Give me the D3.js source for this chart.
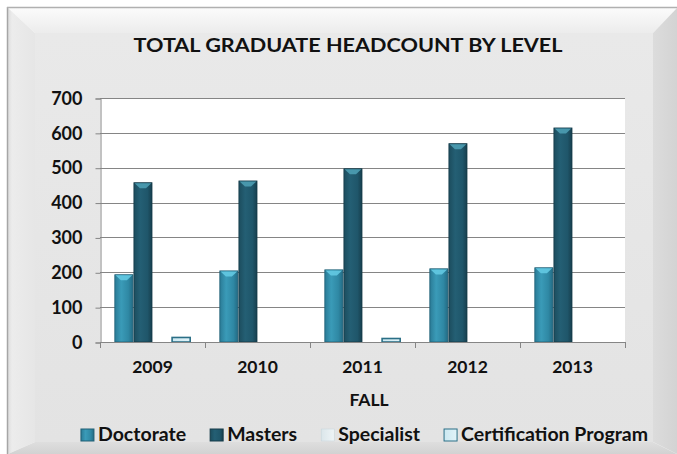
<!DOCTYPE html>
<html><head><meta charset="utf-8">
<script src="https://cdn.jsdelivr.net/npm/d3@7"></script>
<style>body{margin:0;background:#fff}svg{display:block}</style>
</head><body><svg id="c" width="677" height="454"></svg>
<script>
// ---- data ----
const years = ["2009", "2010", "2011", "2012", "2013"];
const seriesNames = ["Doctorate", "Masters", "Specialist", "Certification Program"];
const doctorate = [193, 204, 207, 210, 213];
const masters = [457, 462, 497, 569, 614];
const specialist = [0, 0, 0, 0, 0];
const certification = [13, 0, 10, 0, 0];
const yTicks = [0, 100, 200, 300, 400, 500, 600, 700];
const titleText = "TOTAL GRADUATE HEADCOUNT BY LEVEL";
const xTitle = "FALL";

const seriesValues = [doctorate, masters, specialist, certification];
const FONT = "Lato, 'Open Sans', sans-serif";

const svg = d3.select("#c");
const W = 677, H = 454;
const defs = svg.append("defs");

function linGrad(id, stops, horiz) {
  const g = defs.append("linearGradient").attr("id", id)
    .attr("x1", 0).attr("y1", 0).attr("x2", horiz ? 1 : 0).attr("y2", horiz ? 0 : 1);
  stops.forEach(([o, c]) => g.append("stop").attr("offset", o).attr("stop-color", c));
}
linGrad("gTop", [[0, "#fbfbfb"], [1, "#ececec"]], false);
linGrad("gLeft", [[0, "#dedede"], [0.15, "#ececec"], [1, "#e6e6e6"]], true);
linGrad("gRight", [[0, "#dcdcdc"], [1, "#d3d3d3"]], true);
linGrad("gBottom", [[0, "#dedede"], [1, "#d2d2d2"]], false);
linGrad("gFace", [[0, "#e9e9e9"], [1, "#e3e3e3"]], false);

const seriesStyle = [
  { grad: [[0, "#2a7b96"], [0.35, "#3a9bb8"], [0.75, "#2f88a4"], [1, "#236b84"]], stroke: "#1f5f75", cap: "#63c9e2" },
  { grad: [[0, "#1c4d5e"], [0.35, "#245f74"], [0.75, "#1f566a"], [1, "#173f4e"]], stroke: "#143a48", cap: "#4d9db3" },
  { grad: [[0, "#dbe6ea"], [1, "#eef4f6"]], stroke: "#c4d3d9", cap: "#ffffff" },
  { grad: [[0, "#cbe8f1"], [1, "#e2f3f8"]], stroke: "#2b6f86", cap: "#ffffff" }
];
seriesStyle.forEach((s, i) => linGrad("gS" + i, s.grad, true));

// ---- frame ----
svg.append("rect").attr("width", W).attr("height", H).attr("fill", "#ffffff");
const L = 8, T = 8, R = 677, B = 454, iL = 35, iT = 33, iR = 653, iB = 442;
svg.append("rect").attr("x", iL).attr("y", iT).attr("width", iR - iL).attr("height", iB - iT).attr("fill", "url(#gFace)");
svg.append("polygon").attr("points", [[L, T], [R, T], [iR, iT], [iL, iT]].join(" ")).attr("fill", "url(#gTop)");
svg.append("polygon").attr("points", [[L, T], [iL, iT], [iL, iB], [L, B]].join(" ")).attr("fill", "url(#gLeft)");
svg.append("polygon").attr("points", [[R, T], [R, B], [iR, iB], [iR, iT]].join(" ")).attr("fill", "url(#gRight)");
svg.append("polygon").attr("points", [[L, B], [iL, iB], [iR, iB], [R, B]].join(" ")).attr("fill", "url(#gBottom)");
svg.append("line").attr("x1", 7.5).attr("x2", 7.5).attr("y1", 7).attr("y2", H).attr("stroke", "#a6a6a6").attr("stroke-width", 1.5);
svg.append("line").attr("x1", 7).attr("x2", W).attr("y1", 7.5).attr("y2", 7.5).attr("stroke", "#b0b0b0").attr("stroke-width", 1.5);

// ---- scales ----
const plot = { l: 100, r: 625, t: 98, b: 342 };
const x0 = d3.scaleBand().domain(years).range([plot.l, plot.r]).paddingInner(0.2727).paddingOuter(0.1364);
const x1 = d3.scaleBand().domain(seriesNames).range([0, x0.bandwidth()]);
const y = d3.scaleLinear().domain([0, 700]).range([plot.b, plot.t]);

// plot area
svg.append("rect").attr("x", plot.l).attr("y", plot.t).attr("width", plot.r - plot.l).attr("height", plot.b - plot.t).attr("fill", "#ffffff");

// gridlines
svg.append("g").selectAll("line").data(yTicks.filter(d => d > 0)).join("line")
  .attr("x1", plot.l).attr("x2", plot.r)
  .attr("y1", d => Math.round(y(d)) + 0.5).attr("y2", d => Math.round(y(d)) + 0.5)
  .attr("stroke", "#858585").attr("stroke-width", 1);

// y axis
const yAxis = svg.append("g").attr("transform", `translate(${plot.l + 0.5},0.5)`)
  .call(d3.axisLeft(y).tickValues(yTicks).tickSize(5).tickPadding(13).tickFormat(d3.format("d")));
yAxis.select(".domain").attr("stroke", "#858585");
yAxis.selectAll(".tick line").attr("stroke", "#858585");
yAxis.selectAll(".tick text").attr("font-family", FONT).attr("font-weight", 700).attr("font-size", 18).attr("fill", "#111");

// bars
const gBars = svg.append("g");
seriesNames.forEach((name, si) => {
  const st = seriesStyle[si];
  const data = years.map((yr, i) => ({ yr, v: seriesValues[si][i] })).filter(d => d.v > 0);
  const g = gBars.append("g");
  g.selectAll("rect").data(data).join("rect")
    .attr("x", d => x0(d.yr) + x1(name) + 0.5)
    .attr("y", d => y(d.v))
    .attr("width", x1.bandwidth() - 1)
    .attr("height", d => y(0) - y(d.v))
    .attr("fill", `url(#gS${si})`)
    .attr("stroke", st.stroke).attr("stroke-width", si === 3 ? 1.6 : 0.8);
  if (si < 2) {
    g.selectAll("path").data(data).join("path")
      .attr("d", d => {
        const xa = x0(d.yr) + x1(name) + 1.2, xb = xa + x1.bandwidth() - 2.4, t = y(d.v) + 0.6;
        const mid = (xa + xb) / 2;
        return `M${xa},${t} L${xb},${t} L${mid + 3},${t + 5} L${mid - 3},${t + 5} Z`;
      })
      .attr("fill", st.cap).attr("opacity", 0.9);
  }
});

// x axis
svg.append("line").attr("x1", plot.l).attr("x2", plot.r).attr("y1", plot.b + 0.5).attr("y2", plot.b + 0.5).attr("stroke", "#858585");
const bounds = years.map(yr => x0(yr) - x0.step() * x0.paddingOuter()).concat([plot.r]);
svg.append("g").selectAll("line").data(bounds).join("line")
  .attr("x1", d => Math.round(d) + 0.5).attr("x2", d => Math.round(d) + 0.5)
  .attr("y1", plot.b).attr("y2", plot.b + 6).attr("stroke", "#858585");
const xAxis = svg.append("g").attr("transform", `translate(0,${plot.b})`)
  .call(d3.axisBottom(x0).tickSize(0));
xAxis.select(".domain").remove();
xAxis.selectAll(".tick text").attr("y", 30.5).attr("dy", null)
  .attr("font-family", FONT).attr("font-weight", 700).attr("font-size", 17.5).attr("fill", "#111");

// titles
svg.append("text").attr("x", 348).attr("y", 51.7).attr("text-anchor", "middle")
  .attr("font-family", FONT).attr("font-weight", 700).attr("font-size", 19.5).attr("fill", "#111")
  .attr("textLength", 429).attr("lengthAdjust", "spacingAndGlyphs").text(titleText);
svg.append("text").attr("x", 369).attr("y", 406).attr("text-anchor", "middle")
  .attr("font-family", FONT).attr("font-weight", 700).attr("font-size", 17.5).attr("fill", "#111").text(xTitle);

// legend
const lg = svg.append("g");
const items = lg.selectAll("g").data(seriesNames).join("g");
items.append("rect").attr("width", 13).attr("height", 12).attr("y", -12)
  .attr("fill", (d, i) => `url(#gS${i})`)
  .attr("stroke", (d, i) => seriesStyle[i].stroke).attr("stroke-width", (d, i) => i === 2 ? 0.5 : 1);
items.append("text").attr("x", 17).attr("y", 0)
  .attr("font-family", FONT).attr("font-weight", 700).attr("font-size", 19.5).attr("fill", "#111")
  .text(d => d);
let cx = 0;
const offs = [];
items.each(function () {
  const w = d3.select(this).select("text").node().getComputedTextLength();
  offs.push(cx);
  cx += 17 + w + 24;
});
const totalW = cx - 24;
const startX = 364.5 - totalW / 2;
items.attr("transform", (d, i) => `translate(${startX + offs[i]},441)`);
</script>
</body></html>
